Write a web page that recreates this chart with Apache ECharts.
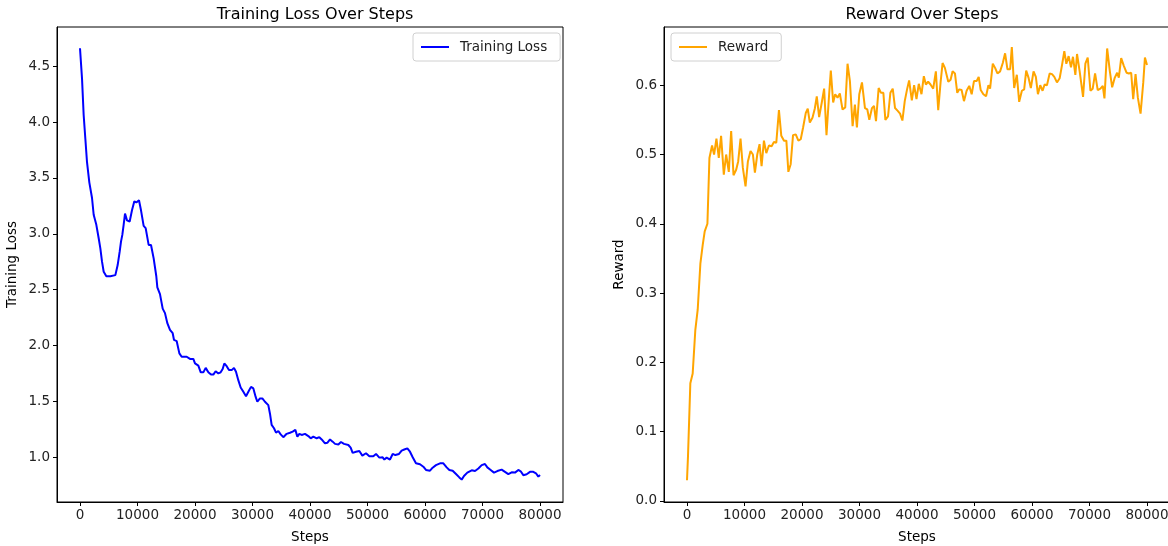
<!DOCTYPE html>
<html>
<head>
<meta charset="utf-8">
<script src="https://cdn.jsdelivr.net/npm/echarts@6/dist/echarts.min.js"></script>
<style>
  html, body { margin: 0; padding: 0; background: #fff; }
  #main { width: 1168px; height: 546px; }
</style>
</head>
<body>
<div id="main"></div>
<script>
// values
const lossSteps = [0, 350, 640, 930, 1220, 1620, 2090, 2380, 2840, 3250, 3540, 3830, 4120, 4580, 5280, 6150, 6550, 6900, 7130, 7360, 7590, 7830, 8170, 8640, 9040, 9450, 9800, 10260, 10610, 11070, 11420, 11940, 12350, 12810, 13270, 13450, 13910, 14380, 14780, 15190, 15650, 16120, 16350, 16810, 17280, 17680, 18550, 19130, 19420, 19710, 20000, 20290, 20580, 21000, 21450, 21860, 22320, 22780, 23190, 23590, 24060, 24460, 24810, 25100, 25510, 25910, 26380, 26780, 27130, 27530, 27940, 28410, 28870, 29280, 29740, 30150, 30550, 30840, 31300, 31710, 32170, 32750, 33040, 33330, 33740, 34090, 34490, 34900, 35360, 35940, 36520, 36990, 37450, 37800, 38150, 38550, 39130, 39710, 40120, 40580, 41160, 41620, 42030, 42610, 43010, 43480, 43940, 44350, 44930, 45390, 45910, 46670, 47070, 47420, 48000, 48580, 49100, 49740, 50320, 51010, 51480, 52060, 52640, 52930, 53330, 53910, 54380, 54840, 55480, 55940, 56400, 56930, 57390, 57860, 58430, 59130, 59710, 60170, 60460, 60870, 61330, 61910, 62610, 63190, 63770, 64230, 64810, 65390, 65970, 66380, 66780, 67360, 68120, 68700, 69280, 69860, 70430, 70840, 71420, 72000, 72580, 73330, 73910, 74490, 75070, 75650, 76230, 76640, 77100, 77680, 78260, 78840, 79300, 79710, 80000];
const lossValues = [4.66, 4.39, 4.06, 3.85, 3.64, 3.46, 3.32, 3.17, 3.08, 2.96, 2.87, 2.75, 2.66, 2.62, 2.62, 2.63, 2.72, 2.84, 2.93, 2.99, 3.08, 3.18, 3.12, 3.11, 3.21, 3.29, 3.28, 3.30, 3.21, 3.07, 3.05, 2.90, 2.90, 2.78, 2.62, 2.52, 2.46, 2.33, 2.29, 2.20, 2.14, 2.11, 2.05, 2.04, 1.93, 1.90, 1.90, 1.88, 1.87, 1.88, 1.84, 1.845, 1.82, 1.76, 1.76, 1.80, 1.76, 1.74, 1.74, 1.77, 1.75, 1.76, 1.79, 1.84, 1.815, 1.78, 1.78, 1.80, 1.765, 1.69, 1.625, 1.586, 1.547, 1.586, 1.63, 1.616, 1.54, 1.497, 1.527, 1.527, 1.497, 1.467, 1.39, 1.29, 1.26, 1.22, 1.235, 1.205, 1.18, 1.21, 1.22, 1.23, 1.245, 1.185, 1.21, 1.20, 1.21, 1.19, 1.17, 1.185, 1.17, 1.18, 1.16, 1.125, 1.13, 1.16, 1.14, 1.12, 1.115, 1.137, 1.12, 1.11, 1.086, 1.04, 1.05, 1.056, 1.015, 1.036, 1.01, 1.01, 1.03, 0.997, 1.00, 0.98, 0.997, 0.98, 1.03, 1.02, 1.03, 1.06, 1.07, 1.08, 1.05, 1.00, 0.946, 0.938, 0.916, 0.887, 0.90, 0.88, 0.907, 0.93, 0.946, 0.946, 0.91, 0.887, 0.88, 0.85, 0.82, 0.80, 0.833, 0.863, 0.884, 0.877, 0.90, 0.93, 0.94, 0.91, 0.887, 0.863, 0.877, 0.89, 0.87, 0.85, 0.866, 0.863, 0.887, 0.875, 0.84, 0.848, 0.87, 0.87, 0.857, 0.827, 0.842];

const rewardSteps = [0, 170, 580, 990, 1450, 1860, 2330, 2740, 3080, 3550, 3900, 4360, 4710, 5120, 5530, 5930, 6400, 6810, 7270, 7680, 8090, 8550, 8900, 9310, 9710, 10180, 10590, 11050, 11460, 11810, 12220, 12620, 12970, 13380, 13790, 14250, 14720, 15120, 15530, 15990, 16400, 16870, 17280, 17630, 18030, 18440, 18910, 19370, 19780, 20190, 20660, 21000, 21360, 21820, 22220, 22570, 22980, 23440, 23850, 24260, 24720, 25010, 25420, 25770, 26180, 26580, 27050, 27520, 27920, 28330, 28800, 29200, 29550, 29960, 30430, 30950, 31360, 31710, 32170, 32520, 32870, 33330, 33740, 34150, 34500, 34960, 35370, 35780, 36180, 36650, 37050, 37460, 37870, 38270, 38630, 39100, 39500, 39910, 40310, 40780, 41190, 41540, 41940, 42350, 42820, 43280, 43690, 44100, 44450, 44850, 45440, 45840, 46190, 46600, 47000, 47350, 47760, 48170, 48630, 49090, 49510, 49910, 50380, 50730, 51080, 51540, 52010, 52420, 52710, 53180, 53580, 53990, 54450, 54920, 55320, 55730, 56200, 56490, 56900, 57360, 57770, 58240, 58640, 58990, 59390, 59800, 60270, 60670, 61030, 61430, 61840, 62190, 62600, 63070, 63480, 63880, 64340, 64810, 65220, 65620, 65970, 66370, 66780, 67130, 67540, 67830, 68290, 68880, 69280, 69690, 70160, 70560, 70970, 71430, 71900, 72310, 72600, 73070, 73540, 73940, 74400, 74810, 75100, 75510, 75970, 76440, 76840, 77250, 77600, 78010, 78410, 78880, 79350, 79640, 80000];
const rewardValues = [0.030, 0.064, 0.170, 0.184, 0.247, 0.276, 0.343, 0.370, 0.389, 0.400, 0.495, 0.513, 0.500, 0.523, 0.495, 0.527, 0.471, 0.500, 0.475, 0.534, 0.470, 0.478, 0.490, 0.523, 0.481, 0.454, 0.490, 0.505, 0.500, 0.474, 0.500, 0.515, 0.483, 0.520, 0.502, 0.513, 0.512, 0.518, 0.517, 0.564, 0.527, 0.520, 0.520, 0.475, 0.486, 0.528, 0.529, 0.520, 0.522, 0.539, 0.560, 0.566, 0.546, 0.553, 0.566, 0.584, 0.554, 0.575, 0.595, 0.528, 0.587, 0.621, 0.575, 0.587, 0.582, 0.588, 0.565, 0.568, 0.631, 0.606, 0.541, 0.572, 0.539, 0.587, 0.604, 0.567, 0.565, 0.550, 0.567, 0.570, 0.548, 0.596, 0.589, 0.589, 0.550, 0.555, 0.589, 0.595, 0.567, 0.563, 0.559, 0.549, 0.577, 0.594, 0.607, 0.578, 0.600, 0.580, 0.602, 0.587, 0.613, 0.601, 0.605, 0.601, 0.595, 0.620, 0.564, 0.604, 0.632, 0.625, 0.605, 0.608, 0.620, 0.617, 0.589, 0.594, 0.593, 0.577, 0.592, 0.599, 0.587, 0.606, 0.606, 0.612, 0.593, 0.587, 0.584, 0.600, 0.595, 0.631, 0.625, 0.617, 0.620, 0.632, 0.646, 0.623, 0.623, 0.655, 0.596, 0.615, 0.576, 0.592, 0.594, 0.621, 0.611, 0.596, 0.620, 0.612, 0.587, 0.600, 0.592, 0.601, 0.600, 0.617, 0.616, 0.612, 0.604, 0.610, 0.629, 0.649, 0.631, 0.642, 0.626, 0.641, 0.615, 0.645, 0.620, 0.583, 0.631, 0.640, 0.592, 0.595, 0.617, 0.593, 0.595, 0.599, 0.581, 0.653, 0.620, 0.597, 0.611, 0.618, 0.611, 0.639, 0.628, 0.618, 0.617, 0.618, 0.580, 0.616, 0.582, 0.559, 0.604, 0.640, 0.629];

const stepTicks = [0, 10000, 20000, 30000, 40000, 50000, 60000, 70000, 80000];
const lossTicks = [1.0, 1.5, 2.0, 2.5, 3.0, 3.5, 4.0, 4.5];
const rewardTicks = [0.0, 0.1, 0.2, 0.3, 0.4, 0.5, 0.6];

const font = 'DejaVu Sans';

function pairs(xs, ys) {
    return xs.map(function (x, i) { return [x, ys[i]]; });
}

function xAxisFor(idx) {
    return {
        type: 'value',
        gridIndex: idx,
        min: -4000,
        max: 84000,
        name: 'Steps',
        nameLocation: 'middle',
        nameGap: 28,
        nameTextStyle: { fontFamily: font, fontSize: 13.5, color: '#000' },
        axisLine: { show: true, onZero: false, lineStyle: { color: '#000', width: 1 } },
        splitLine: { show: false },
        axisTick: { show: true, length: 4, customValues: stepTicks, lineStyle: { color: '#000' } },
        axisLabel: {
            customValues: stepTicks, margin: 6, fontFamily: font, fontSize: 13.5, color: '#222',
            formatter: function (v) { return String(v); }
        }
    };
}

function yAxisFor(idx, name, min, max, ticks) {
    return {
        type: 'value',
        gridIndex: idx,
        min: min,
        max: max,
        name: name,
        nameLocation: 'middle',
        nameGap: 38,
        nameTextStyle: { fontFamily: font, fontSize: 13.5, color: '#000' },
        axisLine: { show: true, onZero: false, lineStyle: { color: '#000', width: 1 } },
        splitLine: { show: false },
        axisTick: { show: true, length: 4, customValues: ticks, lineStyle: { color: '#000' } },
        axisLabel: {
            customValues: ticks, margin: 7, fontFamily: font, fontSize: 13.5, color: '#222',
            formatter: function (v) { return v.toFixed(1); }
        }
    };
}

const legendBase = {
    orient: 'vertical',
    icon: 'rect',
    itemWidth: 28,
    itemHeight: 2,
    itemGap: 4,
    padding: [7, 13, 7, 8],
    borderColor: '#d0d0d0',
    borderWidth: 1,
    borderRadius: 3,
    backgroundColor: 'rgba(255,255,255,0.8)',
    textStyle: { fontFamily: font, fontSize: 13.5, color: '#222', padding: [0, 0, 0, 6] }
};

var myChart = echarts.init(document.getElementById('main'));

option = {
    animation: false,
    backgroundColor: '#fff',
    title: [{
        text: 'Training Loss Over Steps',
        left: 310, top: 2, textAlign: 'center',
        textStyle: { fontFamily: font, fontSize: 16, fontWeight: 'normal', color: '#000' }
    }, {
        text: 'Reward Over Steps',
        left: 917, top: 2, textAlign: 'center',
        textStyle: { fontFamily: font, fontSize: 16, fontWeight: 'normal', color: '#000' }
    }],
    legend: [
        Object.assign({}, legendBase, { data: ['Training Loss'], left: 413, top: 33 }),
        Object.assign({}, legendBase, { data: ['Reward'], left: 671, top: 33 })
    ],
    grid: [
        { left: 57, top: 27, width: 506, height: 475, outerBoundsMode: 'none', containLabel: false,
          show: true, borderColor: '#000', borderWidth: 1 },
        { left: 664, top: 27, width: 506, height: 475, outerBoundsMode: 'none', containLabel: false,
          show: true, borderColor: '#000', borderWidth: 1 }
    ],
    xAxis: [xAxisFor(0), xAxisFor(1)],
    yAxis: [
        yAxisFor(0, 'Training Loss', 0.60, 4.85, lossTicks),
        yAxisFor(1, 'Reward', -0.0015, 0.684, rewardTicks)
    ],
    series: [{
        name: 'Training Loss',
        type: 'line',
        xAxisIndex: 0,
        yAxisIndex: 0,
        showSymbol: false,
        color: '#0000ff',
        lineStyle: { width: 2, color: '#0000ff' },
        data: pairs(lossSteps, lossValues)
    }, {
        name: 'Reward',
        type: 'line',
        xAxisIndex: 1,
        yAxisIndex: 1,
        showSymbol: false,
        color: '#ffa500',
        lineStyle: { width: 2, color: '#ffa500' },
        data: pairs(rewardSteps, rewardValues)
    }]
};
myChart.setOption(option);
</script>
</body>
</html>
